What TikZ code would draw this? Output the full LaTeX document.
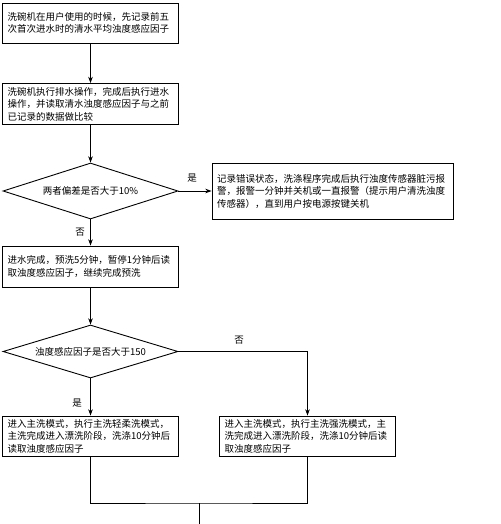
\documentclass[tikz,border=0pt]{standalone}
\usepackage{fontspec}
\newfontfamily\cjk{Noto Sans CJK SC}
\usetikzlibrary{arrows.meta, positioning, shapes.geometric}

\begin{document}
\begin{tikzpicture}[x=1pt, y=-1pt, font=\cjk\fontsize{9.5}{12.5}\selectfont,
    >={Stealth[length=2.2mm, width=1.6mm]}, line width=0.8pt,
    box/.style={draw, line width=0.9pt, align=left, inner xsep=5pt, inner ysep=0pt,
                text width=166pt, minimum height=40pt},
    errbox/.style={box, text width=231pt, minimum height=56pt},
    dec/.style={diamond, draw, line width=0.9pt, aspect=3.2, inner sep=0pt,
                minimum width=175pt, minimum height=56pt},
    lbl/.style={inner sep=1pt}]

  \useasboundingbox (0,0) rectangle (500,524);

  % main column
  \node[box] (b1) at (90.5,23) {洗碗机在用户使用的时候，先记录前五\\次首次进水时的清水平均浊度感应因子};
  \node[box, minimum height=41pt] (b2) at (90.5,104) {洗碗机执行排水操作，完成后执行进水\\操作，并读取清水浊度感应因子与之前\\已记录的数据做比较};
  \node[dec] (d1) at (90.5,191) {两者偏差是否大于10\%};
  \node[errbox] (err) at (332.5,191) {记录错误状态，洗涤程序完成后执行浊度传感器脏污报\\警，报警一分钟并关机或一直报警（提示用户清洗浊度\\传感器），直到用户按电源按键关机};
  \node[box, minimum height=41pt] (b3) at (90.5,266.5) {进水完成，预洗5分钟，暂停1分钟后读\\取浊度感应因子，继续完成预洗};
  \node[dec, minimum height=53pt] (d2) at (90.5,351.5) {浊度感应因子是否大于150};

  % two wash modes
  \node[box] (b4l) at (90.5,436) {进入主洗模式，执行主洗轻柔洗模式，\\主洗完成进入漂洗阶段，洗涤10分钟后\\读取浊度感应因子};
  \node[box] (b4r) at (307.5,436) {进入主洗模式，执行主洗强洗模式，主\\洗完成进入漂洗阶段，洗涤10分钟后读\\取浊度感应因子};

  % branch labels
  \node[lbl] (y1) at (192,178) {是};
  \node[lbl] (n1) at (80,232) {否};
  \node[lbl] (n2) at (239,340) {否};
  \node[lbl] (y2) at (77,403) {是};

  \draw[->] (b1) -- (b2);
  \draw[->] (b2) -- (d1);
  \draw[->] (d1) -- (err);
  \draw[->] (d1) -- (b3);
  \draw[->] (b3) -- (d2);
  \draw[->] (d2) -- (b4l);
  \draw[->] (d2.east) -| (b4r);

  % merge
  \coordinate (join) at (199,503);
  \coordinate (out) at (199,524);
  \draw (b4l.south) |- (join) -| (b4r.south);
  \draw (join) -- (out);
\end{tikzpicture}
\end{document}
